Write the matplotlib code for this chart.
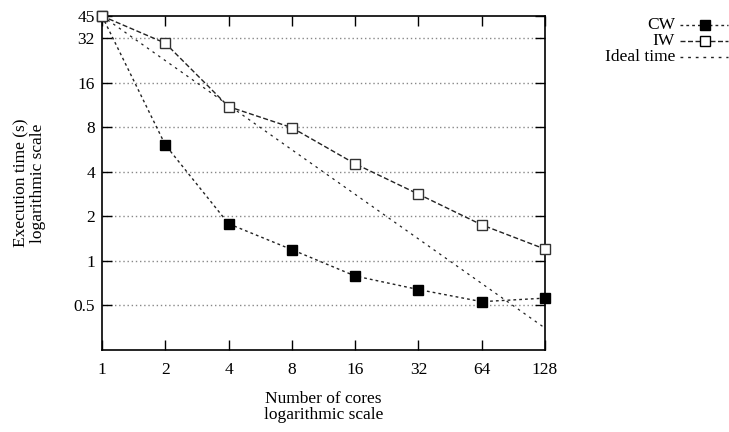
import matplotlib
matplotlib.use("Agg")
import matplotlib.pyplot as plt
from matplotlib.lines import Line2D

plt.rcParams['font.family'] = ['Liberation Serif', 'DejaVu Serif']

cores = [1, 2, 4, 8, 16, 32, 64, 128]
cw = [45, 6.07, 1.78, 1.19, 0.79, 0.64, 0.53, 0.56]
iw = [45, 29.5, 11.0, 7.93, 4.52, 2.82, 1.75, 1.20]
ideal = [45, 22.5, 11.25, 5.625, 2.8125, 1.40625, 0.703125, 0.3515625]
xticks = [1, 2, 4, 8, 16, 32, 64, 128]
yticks = [0.5, 1, 2, 4, 8, 16, 32, 45]
grid_y = [0.5, 1, 2, 4, 8, 16, 32]

FS = 12.5
fig = plt.figure(figsize=(7.29, 4.32), dpi=100)
ax = fig.add_axes([102/729, 1-350/432, (545-102)/729, (350-16)/432])

ls_cw = (0, (2, 2.2))
ls_iw = (0, (3.6, 1.8))
ls_ideal = (0, (2, 3.5))
MS = 6.5
LC = '#222222'

ax.plot(cores, cw, color=LC, linestyle=ls_cw, linewidth=1.0,
        marker='s', markersize=MS, markerfacecolor='black', markeredgecolor='black', clip_on=False, zorder=3)
ax.plot(cores, iw, color=LC, linestyle=ls_iw, linewidth=1.0,
        marker='s', markersize=MS, markerfacecolor='white', markeredgecolor='#333333', markeredgewidth=1.0, clip_on=False, zorder=3)
ax.plot(cores, ideal, color=LC, linestyle=ls_ideal, linewidth=0.9, clip_on=False, zorder=2)

ax.set_xscale('log', base=2)
ax.set_yscale('log', base=2)
ax.set_xlim(1, 128)
ax.set_ylim(0.25, 45)
ax.set_xticks(xticks)
ax.set_xticklabels([str(v) for v in xticks])
ax.set_yticks(yticks)
ax.set_yticklabels([str(v) for v in yticks])
ax.minorticks_off()
ax.tick_params(direction='in', length=7, width=1, top=True, right=True, labelsize=FS)
ax.tick_params(axis='x', pad=9)
ax.tick_params(axis='y', pad=5)
for y in grid_y:
    ax.axhline(y, color='#888888', linestyle=(0, (1, 2)), linewidth=1.0, zorder=1)
for s in ax.spines.values():
    s.set_linewidth(1.2)

ax.set_xlabel('Number of cores\nlogarithmic scale', fontsize=FS, labelpad=9, linespacing=1.0)
ax.set_ylabel('Execution time (s)\nlogarithmic scale', fontsize=FS, labelpad=20, linespacing=1.0)

# legend
labels = ['CW', 'IW', 'Ideal time']
styles = [(ls_cw, 'black'), (ls_iw, 'white'), (ls_ideal, None)]
ys = [25, 41, 57]
for lab, (ls, fc), yp in zip(labels, styles, ys):
    yf = 1 - yp/432
    fig.text(675/729, yf, lab, ha='right', va='center', fontsize=FS)
    fig.add_artist(Line2D([680/729, 728/729], [yf, yf], color=LC, linestyle=ls, linewidth=1.0, transform=fig.transFigure))
    if fc is not None:
        fig.add_artist(Line2D([705/729], [yf], marker='s', markersize=MS, markerfacecolor=fc,
                              markeredgecolor='black', markeredgewidth=1.0, linestyle='none', transform=fig.transFigure))

fig.savefig('out.png', dpi=100)
